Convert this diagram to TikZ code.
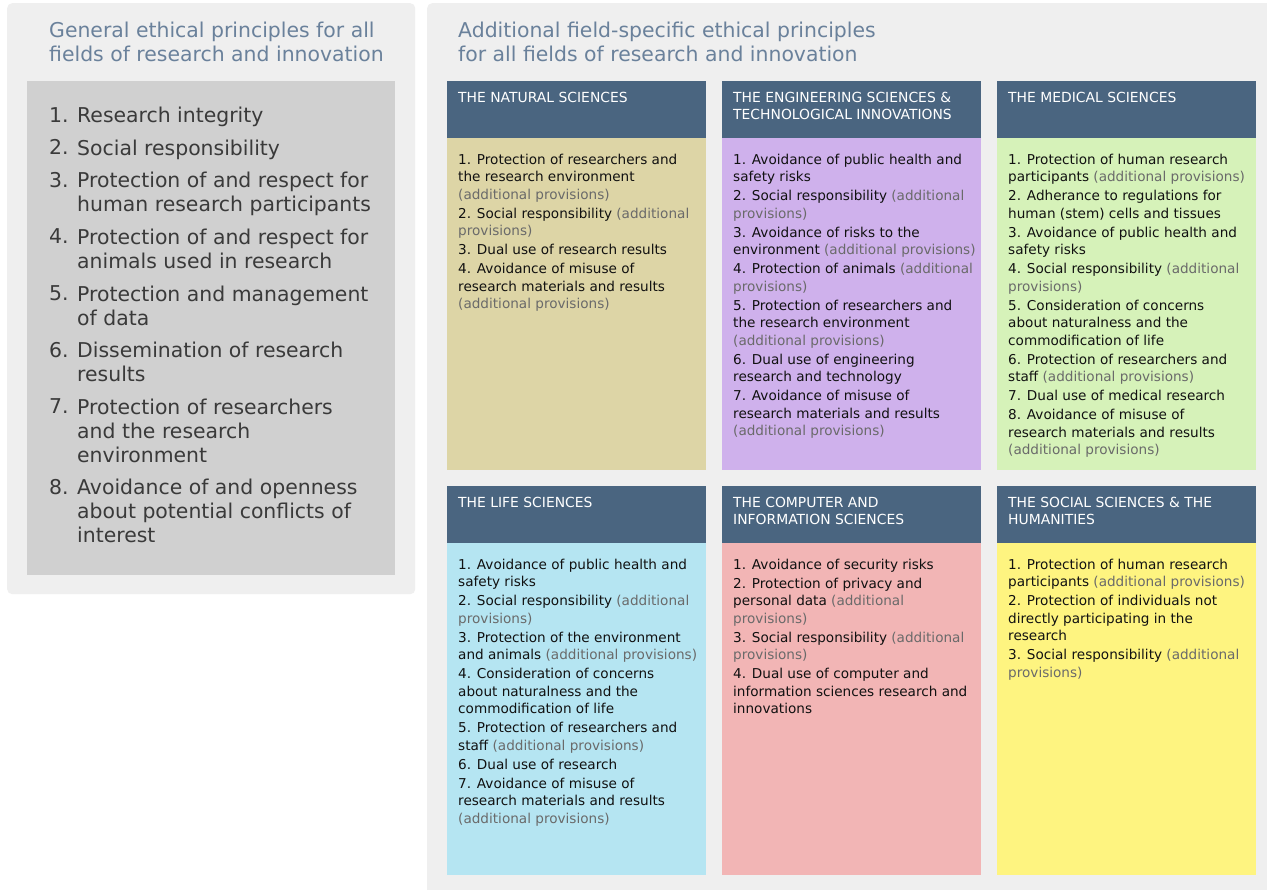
\documentclass[tikz,border=0pt]{standalone}
\usepackage{fontspec}
\setmainfont{DejaVu Sans}
\definecolor{panelgray}{HTML}{EFEFEF}
\definecolor{listgray}{HTML}{D0D0D0}
\definecolor{titleblue}{HTML}{6A819B}
\definecolor{hdrblue}{HTML}{4A6580}
\definecolor{listtext}{HTML}{3A3A3A}
\definecolor{bodytext}{HTML}{111111}
\definecolor{provgray}{HTML}{6A6A6A}
\definecolor{natcol}{HTML}{DDD5A6}
\definecolor{engcol}{HTML}{CFB1EC}
\definecolor{medcol}{HTML}{D6F2B9}
\definecolor{lifecol}{HTML}{B5E5F2}
\definecolor{compcol}{HTML}{F2B5B5}
\definecolor{soccol}{HTML}{FEF480}
\newcommand\ap[1]{\textcolor{provgray}{#1}}
\newcommand\titlefont{\fontsize{20.4}{24}\selectfont}
\newcommand\listfont{\fontsize{20.4}{24}\selectfont}
\newcommand\hdrfont{\fontsize{13.9}{17.3}\selectfont}
\newcommand\bodyfont{\fontsize{13.6}{17.5}\selectfont}
\tikzset{
  panel/.style={fill=panelgray, draw=none, rounded corners=5pt, anchor=north west, inner sep=0},
  listbox/.style={fill=listgray, draw=none, anchor=north west, inner sep=0, minimum width=368pt, minimum height=494pt},
  hdrbox/.style={fill=hdrblue, draw=none, anchor=north west, inner sep=0, minimum width=259pt, minimum height=57pt},
  bodybox/.style={draw=none, anchor=north west, inner sep=0, minimum width=259pt, minimum height=332pt},
  titletext/.style={anchor=north west, inner sep=0, align=left, text=titleblue, font=\titlefont},
  hdrtext/.style={anchor=north west, inner sep=0, align=left, text=white, font=\hdrfont},
  bodytxt/.style={anchor=north west, inner sep=0, align=left, text=bodytext, font=\bodyfont},
  listnum/.style={anchor=north west, inner sep=0, align=left, text=listtext, font=\listfont},
}
\begin{document}
\begin{tikzpicture}[x=1pt,y=-1pt]
\useasboundingbox[fill=white] (0,0) rectangle (1267,890);
\clip (0,0) rectangle (1267,890);
% panels
\node[panel, minimum width=408pt, minimum height=591pt] (lp) at (7,3) {};
\node[panel, minimum width=860pt, minimum height=900pt] (rp) at (427,3) {};
% titles
\node[titletext] (lt) at (49,22) {General ethical principles for all\\fields of research and innovation};
\node[titletext] (rt) at (458,22) {Additional field-specific ethical principles\\for all fields of research and innovation};
% general list
\node[listbox] (lb) at (27,81) {};
\node[listnum] (ln) at (49,107) {%
1.\\[8.6pt]2.\\[8.6pt]3.\\ \\[8.6pt]4.\\ \\[8.6pt]5.\\ \\[8.6pt]6.\\ \\[8.6pt]7.\\ \\ \\[8.6pt]8.};
\node[listnum] (ll) at (77,107) {%
Research integrity\\[8.6pt]
Social responsibility\\[8.6pt]
Protection of and respect for\\human research participants\\[8.6pt]
Protection of and respect for\\animals used in research\\[8.6pt]
Protection and management\\of data\\[8.6pt]
Dissemination of research\\results\\[8.6pt]
Protection of researchers\\and the research\\environment\\[8.6pt]
Avoidance of and openness\\about potential conflicts of\\interest};
% headers
\node[hdrbox] (h1) at (447,81) {};
\node[hdrbox] (h2) at (722,81) {};
\node[hdrbox] (h3) at (997,81) {};
\node[hdrbox] (h4) at (447,486) {};
\node[hdrbox] (h5) at (722,486) {};
\node[hdrbox] (h6) at (997,486) {};
\node[hdrtext] at (458,92) {THE NATURAL SCIENCES};
\node[hdrtext] at (733,92) {THE ENGINEERING SCIENCES \&\\TECHNOLOGICAL INNOVATIONS};
\node[hdrtext] at (1008,92) {THE MEDICAL SCIENCES};
\node[hdrtext] at (458,497) {THE LIFE SCIENCES};
\node[hdrtext] at (733,497) {THE COMPUTER AND\\INFORMATION SCIENCES};
\node[hdrtext] at (1008,497) {THE SOCIAL SCIENCES \& THE\\HUMANITIES};
% bodies
\node[bodybox, fill=natcol] (b1) at (447,138) {};
\node[bodybox, fill=engcol] (b2) at (722,138) {};
\node[bodybox, fill=medcol] (b3) at (997,138) {};
\node[bodybox, fill=lifecol] (b4) at (447,543) {};
\node[bodybox, fill=compcol] (b5) at (722,543) {};
\node[bodybox, fill=soccol] (b6) at (997,543) {};
\node[bodytxt] (t1) at (458,153.5) {%
1. Protection of researchers and\\the research environment\\\ap{(additional provisions)}\\[1.5pt]
2. Social responsibility \ap{(additional}\\\ap{provisions)}\\[1.5pt]
3. Dual use of research results\\[1.5pt]
4. Avoidance of misuse of\\research materials and results\\\ap{(additional provisions)}};
\node[bodytxt] (t2) at (733,153.5) {%
1. Avoidance of public health and\\safety risks\\[1.5pt]
2. Social responsibility \ap{(additional}\\\ap{provisions)}\\[1.5pt]
3. Avoidance of risks to the\\environment \ap{(additional provisions)}\\[1.5pt]
4. Protection of animals \ap{(additional}\\\ap{provisions)}\\[1.5pt]
5. Protection of researchers and\\the research environment\\\ap{(additional provisions)}\\[1.5pt]
6. Dual use of engineering\\research and technology\\[1.5pt]
7. Avoidance of misuse of\\research materials and results\\\ap{(additional provisions)}};
\node[bodytxt] (t3) at (1008,153.5) {%
1. Protection of human research\\participants \ap{(additional provisions)}\\[1.5pt]
2. Adherance to regulations for\\human (stem) cells and tissues\\[1.5pt]
3. Avoidance of public health and\\safety risks\\[1.5pt]
4. Social responsibility \ap{(additional}\\\ap{provisions)}\\[1.5pt]
5. Consideration of concerns\\about naturalness and the\\commodification of life\\[1.5pt]
6. Protection of researchers and\\staff \ap{(additional provisions)}\\[1.5pt]
7. Dual use of medical research\\[1.5pt]
8. Avoidance of misuse of\\research materials and results\\\ap{(additional provisions)}};
\node[bodytxt] (t4) at (458,558.5) {%
1. Avoidance of public health and\\safety risks\\[1.5pt]
2. Social responsibility \ap{(additional}\\\ap{provisions)}\\[1.5pt]
3. Protection of the environment\\and animals \ap{(additional provisions)}\\[1.5pt]
4. Consideration of concerns\\about naturalness and the\\commodification of life\\[1.5pt]
5. Protection of researchers and\\staff \ap{(additional provisions)}\\[1.5pt]
6. Dual use of research\\[1.5pt]
7. Avoidance of misuse of\\research materials and results\\\ap{(additional provisions)}};
\node[bodytxt] (t5) at (733,558.5) {%
1. Avoidance of security risks\\[1.5pt]
2. Protection of privacy and\\personal data \ap{(additional}\\\ap{provisions)}\\[1.5pt]
3. Social responsibility \ap{(additional}\\\ap{provisions)}\\[1.5pt]
4. Dual use of computer and\\information sciences research and\\innovations};
\node[bodytxt] (t6) at (1008,558.5) {%
1. Protection of human research\\participants \ap{(additional provisions)}\\[1.5pt]
2. Protection of individuals not\\directly participating in the\\research\\[1.5pt]
3. Social responsibility \ap{(additional}\\\ap{provisions)}};
\end{tikzpicture}
\end{document}
